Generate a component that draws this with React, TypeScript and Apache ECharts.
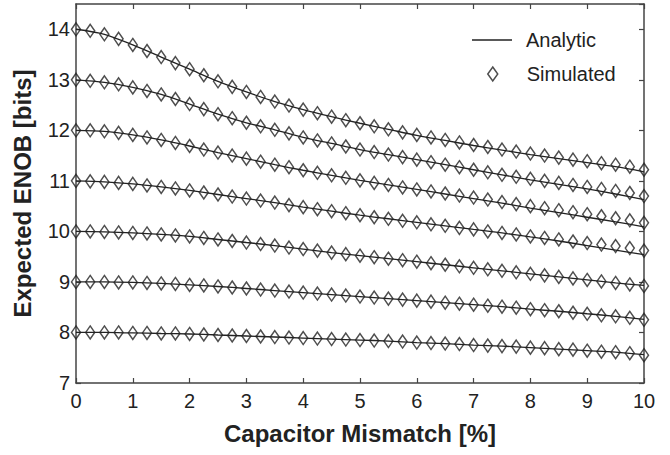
import React, { useEffect, useRef } from "react";
import * as echarts from "echarts";

const X_SIM = [0, 0.25, 0.5, 0.75, 1, 1.25, 1.5, 1.75, 2, 2.25, 2.5, 2.75, 3, 3.25, 3.5, 3.75, 4, 4.25, 4.5, 4.75, 5, 5.25, 5.5, 5.75, 6, 6.25, 6.5, 6.75, 7, 7.25, 7.5, 7.75, 8, 8.25, 8.5, 8.75, 9, 9.25, 9.5, 9.75, 10];
const X_ANA = [0, 0.5, 1, 1.5, 2, 2.5, 3, 3.5, 4, 4.5, 5, 5.5, 6, 6.5, 7, 7.5, 8, 8.5, 9, 9.5, 10];

const SIM_14 = [14.00, 13.97, 13.90, 13.81, 13.69, 13.57, 13.45, 13.33, 13.21, 13.09, 12.97, 12.86, 12.76, 12.66, 12.57, 12.49, 12.41, 12.34, 12.27, 12.20, 12.14, 12.08, 12.02, 11.96, 11.91, 11.86, 11.81, 11.76, 11.71, 11.67, 11.62, 11.58, 11.54, 11.50, 11.46, 11.42, 11.39, 11.35, 11.32, 11.28, 11.22];
const SIM_13 = [13.00, 12.98, 12.95, 12.91, 12.85, 12.78, 12.71, 12.62, 12.52, 12.42, 12.32, 12.24, 12.15, 12.08, 12.01, 11.94, 11.86, 11.80, 11.74, 11.68, 11.62, 11.57, 11.52, 11.47, 11.42, 11.37, 11.32, 11.27, 11.22, 11.17, 11.12, 11.08, 11.04, 11.00, 10.96, 10.92, 10.88, 10.84, 10.80, 10.76, 10.70];
const SIM_12 = [12.00, 12.00, 11.98, 11.95, 11.91, 11.86, 11.81, 11.75, 11.69, 11.62, 11.56, 11.50, 11.44, 11.38, 11.32, 11.27, 11.21, 11.16, 11.11, 11.06, 11.01, 10.96, 10.92, 10.87, 10.83, 10.79, 10.75, 10.71, 10.67, 10.63, 10.58, 10.54, 10.50, 10.46, 10.42, 10.38, 10.34, 10.30, 10.26, 10.22, 10.17];
const SIM_11 = [11.00, 10.99, 10.98, 10.96, 10.94, 10.91, 10.88, 10.85, 10.81, 10.77, 10.73, 10.69, 10.65, 10.61, 10.57, 10.52, 10.48, 10.44, 10.40, 10.36, 10.32, 10.28, 10.25, 10.21, 10.18, 10.14, 10.11, 10.07, 10.04, 10.00, 9.97, 9.94, 9.90, 9.87, 9.84, 9.80, 9.77, 9.74, 9.71, 9.67, 9.62];
const SIM_10 = [10.00, 10.00, 9.99, 9.98, 9.97, 9.96, 9.94, 9.92, 9.90, 9.87, 9.84, 9.81, 9.78, 9.75, 9.72, 9.68, 9.65, 9.62, 9.58, 9.55, 9.52, 9.49, 9.46, 9.43, 9.40, 9.37, 9.34, 9.31, 9.28, 9.25, 9.22, 9.19, 9.16, 9.13, 9.10, 9.07, 9.04, 9.01, 8.98, 8.95, 8.92];
const SIM_9 = [9.00, 9.00, 9.00, 8.99, 8.99, 8.98, 8.97, 8.96, 8.94, 8.93, 8.91, 8.89, 8.87, 8.85, 8.83, 8.81, 8.79, 8.77, 8.75, 8.73, 8.71, 8.69, 8.67, 8.65, 8.63, 8.61, 8.59, 8.57, 8.55, 8.53, 8.51, 8.49, 8.46, 8.44, 8.42, 8.39, 8.37, 8.34, 8.32, 8.29, 8.25];
const SIM_8 = [8.00, 8.00, 8.00, 8.00, 7.99, 7.99, 7.98, 7.98, 7.97, 7.96, 7.95, 7.94, 7.93, 7.92, 7.91, 7.90, 7.89, 7.88, 7.87, 7.86, 7.85, 7.84, 7.83, 7.82, 7.80, 7.79, 7.78, 7.77, 7.75, 7.74, 7.73, 7.72, 7.70, 7.69, 7.67, 7.66, 7.64, 7.62, 7.61, 7.59, 7.55];

const ANA_14 = [14.00, 13.90, 13.69, 13.45, 13.21, 12.97, 12.76, 12.57, 12.41, 12.27, 12.14, 12.02, 11.90, 11.80, 11.70, 11.61, 11.52, 11.44, 11.36, 11.28, 11.18];
const ANA_13 = [13.00, 12.95, 12.85, 12.71, 12.52, 12.32, 12.15, 12.01, 11.86, 11.74, 11.62, 11.52, 11.42, 11.32, 11.22, 11.12, 11.02, 10.93, 10.84, 10.74, 10.63];
const ANA_12 = [12.00, 11.98, 11.91, 11.81, 11.69, 11.56, 11.44, 11.32, 11.21, 11.11, 11.01, 10.92, 10.83, 10.74, 10.65, 10.56, 10.46, 10.37, 10.28, 10.19, 10.09];
const ANA_11 = [11.00, 10.98, 10.94, 10.88, 10.81, 10.73, 10.65, 10.57, 10.48, 10.40, 10.32, 10.25, 10.18, 10.11, 10.04, 9.97, 9.89, 9.81, 9.72, 9.63, 9.54];
const ANA_10 = [10.00, 9.99, 9.97, 9.94, 9.90, 9.84, 9.78, 9.72, 9.65, 9.58, 9.52, 9.46, 9.40, 9.34, 9.28, 9.22, 9.16, 9.10, 9.04, 8.98, 8.93];
const ANA_9 = [9.00, 9.00, 8.99, 8.97, 8.94, 8.91, 8.87, 8.83, 8.79, 8.75, 8.71, 8.67, 8.63, 8.59, 8.55, 8.51, 8.46, 8.42, 8.37, 8.32, 8.26];
const ANA_8 = [8.00, 8.00, 7.99, 7.98, 7.97, 7.95, 7.93, 7.91, 7.89, 7.87, 7.85, 7.83, 7.80, 7.78, 7.75, 7.73, 7.70, 7.67, 7.64, 7.61, 7.56];

const SIM_SERIES = [SIM_14, SIM_13, SIM_12, SIM_11, SIM_10, SIM_9, SIM_8];
const ANA_SERIES = [ANA_14, ANA_13, ANA_12, ANA_11, ANA_10, ANA_9, ANA_8];

const X_TITLE = "Capacitor Mismatch [%]";
const Y_TITLE = "Expected ENOB [bits]";
const FONT = "'Liberation Sans', Arial, Helvetica, sans-serif";
const INK = "#222";
const AXIS = "#444";

export default function App() {
  const ref = useRef<HTMLDivElement>(null);
  useEffect(() => {
    if (!ref.current) return;
    const chart = echarts.init(ref.current, undefined, { renderer: "svg" });
    const tick = { show: true, inside: true, length: 5, lineStyle: { color: AXIS, width: 1.2 } };
    const line = { show: true, onZero: false, lineStyle: { color: AXIS, width: 1.5 } };
    const series: any[] = [];
    ANA_SERIES.forEach((vals) => {
      series.push({
        type: "line",
        name: "Analytic",
        data: X_ANA.map((x, i) => [x, vals[i]]),
        showSymbol: false,
        symbol: "none",
        smooth: 0.3,
        lineStyle: { color: INK, width: 1.3 },
        itemStyle: { color: INK },
        z: 2,
      });
    });
    SIM_SERIES.forEach((vals) => {
      series.push({
        type: "scatter",
        name: "Simulated",
        data: X_SIM.map((x, i) => [x, vals[i]]),
        symbol: "diamond",
        symbolSize: [9, 13],
        itemStyle: { color: "rgba(255,255,255,0)", borderColor: INK, borderWidth: 1.5 },
        z: 3,
      });
    });
    chart.setOption({
      animation: false,
      backgroundColor: "#fff",
      textStyle: { fontFamily: FONT },
      grid: { left: 76, right: 26, top: 4, bottom: 72, containLabel: false },
      legend: [
        {
          data: ["Analytic"],
          left: 472,
          top: 30,
          padding: 0,
          icon: "rect",
          itemWidth: 40,
          itemHeight: 1.5,
          itemStyle: { color: INK, borderWidth: 0 },
          textStyle: { fontSize: 20, color: INK, fontFamily: FONT, padding: [0, 0, 0, 9] },
          selectedMode: false,
        },
        {
          data: ["Simulated"],
          left: 487,
          top: 64,
          padding: 0,
          itemWidth: 10,
          itemHeight: 14,
          icon: "diamond",
          itemStyle: { color: "rgba(255,255,255,0)", borderColor: INK, borderWidth: 1.5 },
          textStyle: { fontSize: 20, color: INK, fontFamily: FONT, padding: [0, 0, 0, 24] },
          selectedMode: false,
        },
      ],
      xAxis: [
        {
          type: "value",
          min: 0,
          max: 10,
          interval: 1,
          position: "bottom",
          name: X_TITLE,
          nameLocation: "middle",
          nameGap: 38,
          nameTextStyle: { fontSize: 24, fontWeight: "bold", color: INK, fontFamily: FONT },
          axisLine: line,
          axisTick: tick,
          splitLine: { show: false },
          axisLabel: { fontSize: 20, color: INK, margin: 8, fontFamily: FONT },
        },
        {
          type: "value",
          min: 0,
          max: 10,
          interval: 1,
          position: "top",
          axisLine: line,
          axisTick: tick,
          splitLine: { show: false },
          axisLabel: { show: false },
        },
      ],
      yAxis: [
        {
          type: "value",
          min: 7,
          max: 14.5,
          interval: 1,
          position: "left",
          name: Y_TITLE,
          nameLocation: "middle",
          nameGap: 42,
          nameRotate: 90,
          nameTextStyle: { fontSize: 24, fontWeight: "bold", color: INK, fontFamily: FONT },
          axisLine: line,
          axisTick: tick,
          splitLine: { show: false },
          axisLabel: {
            fontSize: 20,
            color: INK,
            margin: 6,
            fontFamily: FONT,
            showMaxLabel: false,
            formatter: (v: number) => (Number.isInteger(v) ? String(v) : ""),
          },
        },
        {
          type: "value",
          min: 7,
          max: 14.5,
          interval: 1,
          position: "right",
          axisLine: line,
          axisTick: tick,
          splitLine: { show: false },
          axisLabel: { show: false },
        },
      ],
      series,
    });
    return () => chart.dispose();
  }, []);
  return (
    <div
      ref={ref}
      style={{ position: "fixed", left: 0, top: 0, width: 670, height: 455, background: "#fff" }}
    />
  );
}
